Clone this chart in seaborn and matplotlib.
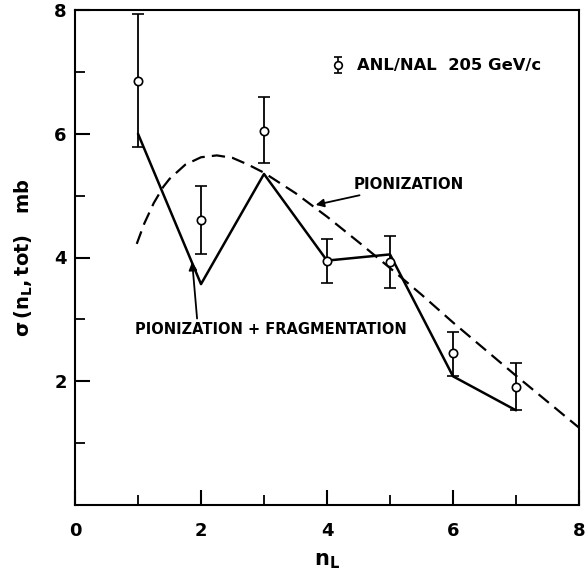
import matplotlib
matplotlib.use("Agg")
import matplotlib.pyplot as plt
import seaborn as sns
import numpy as np
import pandas as pd

# ---- data ----
n_L = [1, 2, 3, 4, 5, 6, 7]
sigma_meas = [6.86, 4.60, 6.04, 3.95, 3.93, 2.45, 1.91]
err_low = [5.78, 4.05, 5.53, 3.58, 3.51, 2.09, 1.54]
err_high = [7.93, 5.15, 6.60, 4.30, 4.35, 2.80, 2.30]

pf_x = [1, 2, 3, 4, 5, 6, 7]
pf_y = [6.00, 3.57, 5.35, 3.95, 4.05, 2.08, 1.53]

pion_x = [0.98, 1.1, 1.25, 1.4, 1.5, 1.75, 2.0, 2.25, 2.5, 2.75, 3.0, 3.5, 4.0, 4.5, 5.0, 5.5, 6.0, 6.5, 7.0, 7.5, 8.0]
pion_y = [4.22, 4.55, 4.88, 5.14, 5.27, 5.50, 5.62, 5.65, 5.61, 5.50, 5.37, 5.04, 4.66, 4.25, 3.83, 3.40, 2.95, 2.52, 2.09, 1.67, 1.25]

x_ticks_major = [0, 2, 4, 6, 8]
y_ticks_major = [2, 4, 6, 8]

sns.set_style("ticks")
plt.rcParams['font.family'] = ['DejaVu Sans']
plt.rcParams.update({"text.color": "black", "axes.labelcolor": "black",
                     "xtick.color": "black", "ytick.color": "black",
                     "axes.edgecolor": "black"})

fig = plt.figure(figsize=(5.86, 5.79), dpi=100)
ax = fig.add_axes([75/586, 1-505/579, (579-75)/586, (505-10)/579])

df_pf = pd.DataFrame({"x": pf_x, "y": pf_y})
df_pion = pd.DataFrame({"x": pion_x, "y": pion_y})

sns.lineplot(data=df_pion, x="x", y="y", ax=ax, color="black", lw=1.6,
             linestyle=(0, (6, 3.2)), sort=False)
sns.lineplot(data=df_pf, x="x", y="y", ax=ax, color="black", lw=1.8, sort=False)

yerr = [np.array(sigma_meas) - np.array(err_low), np.array(err_high) - np.array(sigma_meas)]
ax.errorbar(n_L, sigma_meas, yerr=yerr, fmt="o", color="black", mfc="white", mec="black",
            ms=6, mew=1.2, elinewidth=1.3, capsize=4, capthick=1.3, zorder=5)

# legend marker
ax.errorbar([4.17], [7.11], yerr=[[0.13], [0.13]], fmt="o", color="black", mfc="white",
            mec="black", ms=5.5, mew=1.2, elinewidth=1.2, capsize=3, capthick=1.2, zorder=5)
ax.text(4.48, 7.11, "ANL/NAL  205 GeV/c", fontsize=11.8, fontweight="bold", va="center", ha="left")

ax.annotate("PIONIZATION", xy=(3.82, 4.85), xytext=(4.42, 5.18), fontsize=10.8, fontweight="bold",
            va="center", ha="left",
            arrowprops=dict(arrowstyle="-|>", color="black", lw=1.3, shrinkA=0, shrinkB=0,
                            mutation_scale=12))
ax.annotate("PIONIZATION + FRAGMENTATION", xy=(1.86, 3.93), xytext=(0.95, 2.84), fontsize=10.5,
            fontweight="bold", va="center", ha="left",
            arrowprops=dict(arrowstyle="-|>", color="black", lw=1.3, shrinkA=0, shrinkB=0,
                            mutation_scale=12, relpos=(0.23, 1.0)))

ax.set_xlim(0, 8)
ax.set_ylim(0, 8)
ax.set_xticks(x_ticks_major)
ax.set_yticks(y_ticks_major)
ax.set_xticks([1, 3, 5, 7], minor=True)
ax.set_yticks([1, 3, 5, 7], minor=True)
ax.tick_params(which="major", direction="in", length=11, width=1.5, labelsize=13, colors="black")
ax.tick_params(which="minor", direction="in", length=7, width=1.3, colors="black")
ax.tick_params(axis="x", which="major", pad=12)
ax.tick_params(axis="y", which="major", pad=6)
for lbl in ax.get_xticklabels() + ax.get_yticklabels():
    lbl.set_fontweight("bold")
for s in ax.spines.values():
    s.set_linewidth(1.5)
    s.set_color("black")
    s.set_visible(True)

ax.set_xlabel(r"$\mathbf{n_L}$", fontsize=15, labelpad=8)
ax.set_ylabel(r"$\mathbf{\sigma\,(n_L, tot)}$   mb", fontsize=14, fontweight="bold", labelpad=14)

fig.savefig("out.png", dpi=100)
